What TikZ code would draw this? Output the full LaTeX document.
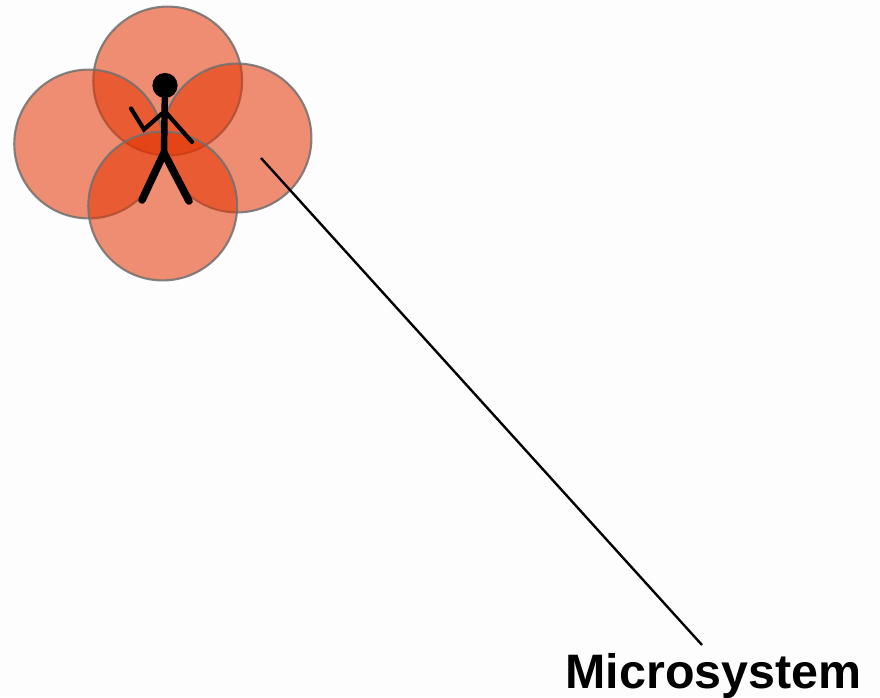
\documentclass[tikz,border=0pt]{standalone}
\usepackage{fontspec}
\setmainfont{Liberation Sans}
\usepackage{xcolor}
\definecolor{rouge}{RGB}{228,50,0}
\definecolor{contour}{RGB}{112,112,112}
\definecolor{fond}{RGB}{253,253,253}
\begin{document}
\begin{tikzpicture}[x=0.025cm,y=-0.025cm]
% Styles
\tikzstyle{cercle}=[circle,draw=contour,line width=1.5pt,draw opacity=0.85,fill=rouge,fill opacity=0.55,inner sep=0,minimum size=3.72cm]
\tikzstyle{tete}=[circle,fill=black,inner sep=0,minimum size=0.63cm]
\tikzstyle{tronc}=[line width=4.6pt,line cap=round]
\tikzstyle{jambe}=[line width=5.4pt,line cap=round]
\tikzstyle{bras}=[line width=3pt,line cap=round,line join=miter]
\tikzstyle{trait}=[line width=1.7pt]
\tikzstyle{etiquette}=[font=\fontsize{34.4}{36}\selectfont\bfseries,inner sep=0]
% Cadre
\fill[fond] (0,0) rectangle (880,697);
\useasboundingbox (0,0) rectangle (880,697);
% Cercles
\node[cercle] (Haut) at (167.7,81) {};
\node[cercle] (Gauche) at (88.7,144) {};
\node[cercle] (Droite) at (237,138) {};
\node[cercle] (Bas) at (162.7,206) {};
% Personnage
\node[tete] (Tete) at (165,85.5) {};
\coordinate (Bassin) at (164,153);
\coordinate (EpauleD) at (165.5,112);
\coordinate (EpauleG) at (162,113.5);
\coordinate (MainD) at (192,142);
\coordinate (Coude) at (144,129.5);
\coordinate (MainG) at (131,108.5);
\coordinate (PiedG) at (142,200);
\coordinate (PiedD) at (189,201);
\draw[tronc] (Tete) -- (Bassin);
\draw[jambe] (PiedG) -- (Bassin) -- (PiedD);
\draw[bras] (EpauleD) -- (MainD);
\draw[bras] (EpauleG) -- (Coude) -- (MainG);
% Etiquette
\node[etiquette,anchor=base] (Micro) at (713.5,688) {Microsystem};
\coordinate (Depart) at (261,158);
\coordinate (Arrivee) at (702,645);
\draw[trait] (Depart) -- (Arrivee);
\end{tikzpicture}
\end{document}
